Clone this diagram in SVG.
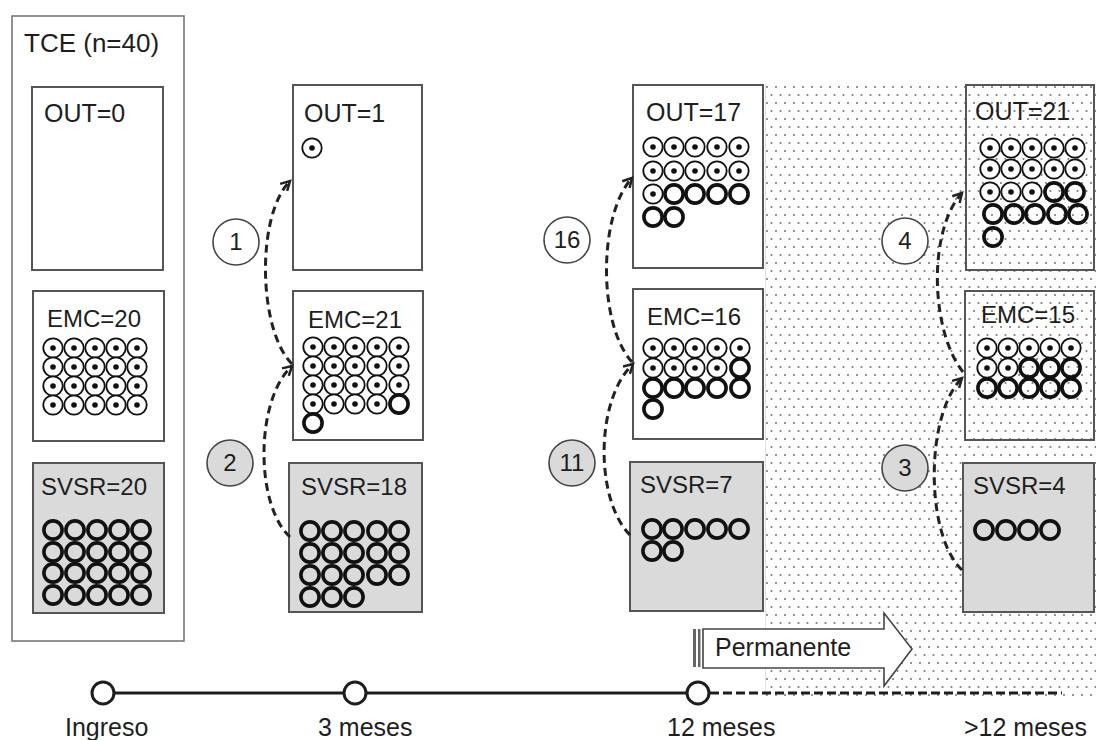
<svg xmlns="http://www.w3.org/2000/svg" xmlns:xlink="http://www.w3.org/1999/xlink" width="1096" height="740" viewBox="0 0 1096 740">
<style>
text{font-family:"Liberation Sans",Arial,sans-serif;fill:#1e1e1e}
.box{fill:#fff;stroke:#555;stroke-width:2}
.gbox{fill:#dadada;stroke:#555;stroke-width:2}
.tbox{fill:none;stroke:#555;stroke-width:2}
.lbl{font-size:25px}
.lbl2{font-size:24px}
.call{fill:#fff;stroke:#444;stroke-width:1.6}
.callg{fill:#dadada;stroke:#444;stroke-width:1.6}
.num{font-size:24px;text-anchor:middle}
.flow{fill:none;stroke:#222;stroke-width:3;stroke-dasharray:8 5;marker-end:url(#chev)}
</style>
<defs>
<pattern id="dots" x="765" y="84" width="9" height="16" patternUnits="userSpaceOnUse">
<circle cx="2" cy="3" r="1.05" fill="#7a7a7a"/>
<circle cx="6.5" cy="11" r="1.05" fill="#7a7a7a"/>
</pattern>
<marker id="chev" markerUnits="userSpaceOnUse" markerWidth="14" markerHeight="14" refX="10" refY="6" orient="auto">
<path d="M1,1 L10,6 L1,11" fill="none" stroke="#222" stroke-width="2.5"/>
</marker>
<g id="d"><circle r="9.7" fill="#fff" stroke="#111" stroke-width="1.8"/><circle r="2.8" fill="#111"/></g>
<g id="t"><circle r="9.1" fill="none" stroke="#111" stroke-width="3.6"/></g>
</defs>

<rect id="permanent-zone" x="765" y="84" width="331" height="612" fill="url(#dots)"/>
<line x1="765.5" y1="84" x2="765.5" y2="696" stroke="#e2e2e2" stroke-width="1"/>

<g id="tce">
<rect x="12" y="16" width="172" height="625" fill="none" stroke="#777" stroke-width="1.6"/>
<text x="24" y="52" style="font-size:26px">TCE (n=40)</text>
</g>

<g id="out0">
<rect class="box" x="32" y="87" width="131" height="183"/>
<text class="lbl" x="44" y="122">OUT=0</text>
</g>

<g id="emc20">
<rect class="box" x="33" y="291" width="131" height="150"/>
<text class="lbl2" x="47" y="327">EMC=20</text>
<use href="#d" x="53" y="348"/><use href="#d" x="74" y="348"/><use href="#d" x="95" y="348"/><use href="#d" x="116" y="348"/><use href="#d" x="137" y="348"/>
<use href="#d" x="53" y="367"/><use href="#d" x="74" y="367"/><use href="#d" x="95" y="367"/><use href="#d" x="116" y="367"/><use href="#d" x="137" y="367"/>
<use href="#d" x="53" y="386"/><use href="#d" x="74" y="386"/><use href="#d" x="95" y="386"/><use href="#d" x="116" y="386"/><use href="#d" x="137" y="386"/>
<use href="#d" x="53" y="405"/><use href="#d" x="74" y="405"/><use href="#d" x="95" y="405"/><use href="#d" x="116" y="405"/><use href="#d" x="137" y="405"/>
</g>

<g id="svsr20">
<rect class="gbox" x="33" y="463" width="131" height="150"/>
<text class="lbl2" x="41" y="495">SVSR=20</text>
<use href="#t" x="53" y="530"/><use href="#t" x="75" y="530"/><use href="#t" x="97" y="530"/><use href="#t" x="119" y="530"/><use href="#t" x="141" y="530"/>
<use href="#t" x="53" y="552"/><use href="#t" x="75" y="552"/><use href="#t" x="97" y="552"/><use href="#t" x="119" y="552"/><use href="#t" x="141" y="552"/>
<use href="#t" x="53" y="573"/><use href="#t" x="75" y="573"/><use href="#t" x="97" y="573"/><use href="#t" x="119" y="573"/><use href="#t" x="141" y="573"/>
<use href="#t" x="53" y="595"/><use href="#t" x="75" y="595"/><use href="#t" x="97" y="595"/><use href="#t" x="119" y="595"/><use href="#t" x="141" y="595"/>
</g>

<g id="out1">
<rect class="box" x="293" y="85" width="129" height="185"/>
<text class="lbl" x="304" y="122">OUT=1</text>
<use href="#d" x="312" y="148"/>
</g>

<g id="emc21">
<rect class="box" x="293" y="291" width="130" height="149"/>
<text class="lbl2" x="308" y="328">EMC=21</text>
<use href="#d" x="313" y="347"/><use href="#d" x="334" y="347"/><use href="#d" x="355" y="347"/><use href="#d" x="377" y="347"/><use href="#d" x="399" y="347"/>
<use href="#d" x="313" y="366"/><use href="#d" x="334" y="366"/><use href="#d" x="355" y="366"/><use href="#d" x="377" y="366"/><use href="#d" x="399" y="366"/>
<use href="#d" x="313" y="385"/><use href="#d" x="334" y="385"/><use href="#d" x="355" y="385"/><use href="#d" x="377" y="385"/><use href="#d" x="399" y="385"/>
<use href="#d" x="313" y="404"/><use href="#d" x="334" y="404"/><use href="#d" x="355" y="404"/><use href="#d" x="377" y="404"/><use href="#t" x="399" y="404"/>
<use href="#t" x="313" y="423"/>
</g>

<g id="svsr18">
<rect class="gbox" x="289" y="463" width="133" height="149"/>
<text class="lbl2" x="301" y="495">SVSR=18</text>
<use href="#t" x="310" y="531"/><use href="#t" x="332" y="531"/><use href="#t" x="354" y="531"/><use href="#t" x="377" y="531"/><use href="#t" x="399" y="531"/>
<use href="#t" x="310" y="553"/><use href="#t" x="332" y="553"/><use href="#t" x="354" y="553"/><use href="#t" x="377" y="553"/><use href="#t" x="399" y="553"/>
<use href="#t" x="310" y="575"/><use href="#t" x="332" y="575"/><use href="#t" x="354" y="575"/><use href="#t" x="377" y="575"/><use href="#t" x="399" y="575"/>
<use href="#t" x="310" y="597"/><use href="#t" x="332" y="597"/><use href="#t" x="354" y="597"/>
</g>

<g id="out17">
<rect class="box" x="633" y="85" width="130" height="183"/>
<text class="lbl" x="646" y="121">OUT=17</text>
<use href="#d" x="653" y="147"/><use href="#d" x="674" y="147"/><use href="#d" x="695" y="147"/><use href="#d" x="717" y="147"/><use href="#d" x="739" y="147"/>
<use href="#d" x="653" y="171"/><use href="#d" x="674" y="171"/><use href="#d" x="695" y="171"/><use href="#d" x="717" y="171"/><use href="#d" x="739" y="171"/>
<use href="#d" x="653" y="194"/><use href="#t" x="674" y="194"/><use href="#t" x="695" y="194"/><use href="#t" x="717" y="194"/><use href="#t" x="739" y="194"/>
<use href="#t" x="653" y="217"/><use href="#t" x="674" y="217"/>
</g>

<g id="emc16">
<rect class="box" x="633" y="289" width="130" height="150"/>
<text class="lbl2" x="647" y="325">EMC=16</text>
<use href="#d" x="653" y="348"/><use href="#d" x="674" y="348"/><use href="#d" x="695" y="348"/><use href="#d" x="717" y="348"/><use href="#d" x="740" y="348"/>
<use href="#d" x="653" y="368"/><use href="#d" x="674" y="368"/><use href="#d" x="695" y="368"/><use href="#d" x="717" y="368"/><use href="#t" x="740" y="368"/>
<use href="#t" x="653" y="388"/><use href="#t" x="674" y="388"/><use href="#t" x="695" y="388"/><use href="#t" x="717" y="388"/><use href="#t" x="740" y="388"/>
<use href="#t" x="653" y="409"/>
</g>

<g id="svsr7">
<rect class="gbox" x="630" y="462" width="133" height="149"/>
<text class="lbl2" x="640" y="493">SVSR=7</text>
<use href="#t" x="652" y="529"/><use href="#t" x="673" y="529"/><use href="#t" x="695" y="529"/><use href="#t" x="717" y="529"/><use href="#t" x="739" y="529"/>
<use href="#t" x="652" y="551"/><use href="#t" x="673" y="551"/>
</g>

<g id="out21">
<rect class="tbox" x="966" y="85" width="128" height="185"/>
<text class="lbl" x="975" y="120">OUT=21</text>
<use href="#d" x="990" y="148"/><use href="#d" x="1011" y="148"/><use href="#d" x="1032" y="148"/><use href="#d" x="1054" y="148"/><use href="#d" x="1075" y="148"/>
<use href="#d" x="990" y="169"/><use href="#d" x="1011" y="169"/><use href="#d" x="1032" y="169"/><use href="#d" x="1054" y="169"/><use href="#d" x="1075" y="169"/>
<use href="#d" x="990" y="192"/><use href="#d" x="1011" y="192"/><use href="#d" x="1032" y="192"/><use href="#t" x="1054" y="192"/><use href="#t" x="1075" y="192"/>
<use href="#t" x="993" y="214"/><use href="#t" x="1014" y="214"/><use href="#t" x="1035" y="214"/><use href="#t" x="1057" y="214"/><use href="#t" x="1078" y="214"/>
<use href="#t" x="993" y="237"/>
</g>

<g id="emc15">
<rect class="tbox" x="965" y="291" width="129" height="149"/>
<text class="lbl2" x="981" y="323">EMC=15</text>
<use href="#d" x="987" y="348"/><use href="#d" x="1008" y="348"/><use href="#d" x="1029" y="348"/><use href="#d" x="1050" y="348"/><use href="#d" x="1071" y="348"/>
<use href="#d" x="987" y="368"/><use href="#d" x="1008" y="368"/><use href="#t" x="1029" y="368"/><use href="#t" x="1050" y="368"/><use href="#t" x="1071" y="368"/>
<use href="#t" x="987" y="388"/><use href="#t" x="1008" y="388"/><use href="#t" x="1029" y="388"/><use href="#t" x="1050" y="388"/><use href="#t" x="1071" y="388"/>
</g>

<g id="svsr4">
<rect class="gbox" x="963" y="463" width="131" height="149"/>
<text class="lbl2" x="973" y="494">SVSR=4</text>
<use href="#t" x="984" y="530"/><use href="#t" x="1006" y="530"/><use href="#t" x="1028" y="530"/><use href="#t" x="1050" y="530"/>
</g>

<g id="connectors">
<path class="flow" d="M292,364 C258,330 256,215 290,181"/>
<path class="flow" d="M290,537 C255,505 255,400 292,366"/>
<path class="flow" d="M632,362 C598,325 598,215 632,178"/>
<path class="flow" d="M630,535 C595,500 595,400 633,364"/>
<path class="flow" d="M963,372 C930,330 928,230 962,193"/>
<path class="flow" d="M962,570 C925,535 925,415 962,378"/>
</g>

<g id="callout-1"><circle class="call" cx="236" cy="242" r="23"/><text class="num" x="236" y="250">1</text></g>
<g id="callout-2"><circle class="callg" cx="230" cy="463" r="23"/><text class="num" x="230" y="471">2</text></g>
<g id="callout-16"><circle class="call" cx="567" cy="240" r="23"/><text class="num" x="567" y="248">16</text></g>
<g id="callout-11"><circle class="callg" cx="572" cy="463" r="23"/><text class="num" x="572" y="471">11</text></g>
<g id="callout-4"><circle class="call" cx="905" cy="241" r="23"/><text class="num" x="905" y="249">4</text></g>
<g id="callout-3"><circle class="callg" cx="905" cy="468" r="23"/><text class="num" x="905" y="476">3</text></g>

<g id="permanente">
<rect x="693" y="629" width="3" height="38" fill="#666"/>
<rect x="698" y="629" width="2.5" height="38" fill="#666"/>
<path d="M703,629 L884,629 L884,613 L912,649 L884,686 L884,668 L703,668 Z" fill="#fff" stroke="#444" stroke-width="1.6"/>
<text x="715" y="656" style="font-size:25px">Permanente</text>
</g>

<g id="timeline">
<line x1="103" y1="693" x2="698" y2="693" stroke="#1e1e1e" stroke-width="3"/>
<line x1="710" y1="693" x2="1062" y2="693" stroke="#1e1e1e" stroke-width="3" stroke-dasharray="9 4"/>
<circle cx="103" cy="693" r="11" fill="#fff" stroke="#1e1e1e" stroke-width="3"/>
<circle cx="355" cy="693" r="11" fill="#fff" stroke="#1e1e1e" stroke-width="3"/>
<circle cx="698" cy="693" r="11" fill="#fff" stroke="#1e1e1e" stroke-width="3"/>
<text x="65" y="736" style="font-size:25px">Ingreso</text>
<text x="318" y="736" style="font-size:25px">3 meses</text>
<text x="667" y="736" style="font-size:25px">12 meses</text>
<text x="964" y="736" style="font-size:25px">&gt;12 meses</text>
</g>
</svg>
